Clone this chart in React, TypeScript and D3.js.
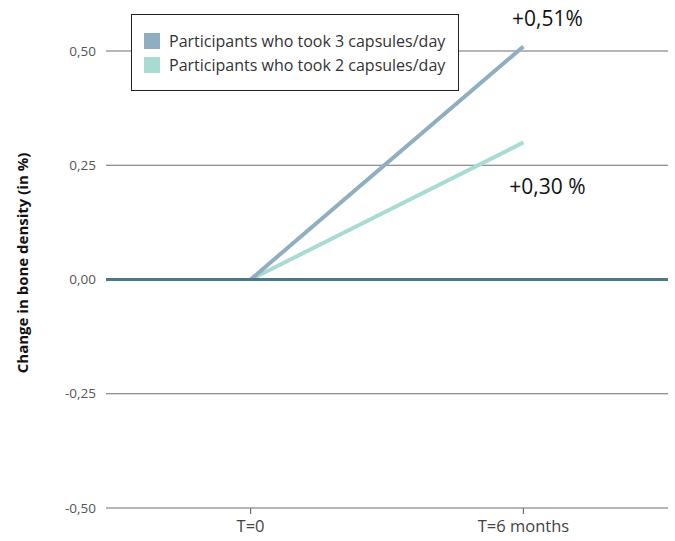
import React from "react";
import * as d3 from "d3";

const categories = ["T=0", "T=6 months"];
const seriesNames = ["Participants who took 3 capsules/day", "Participants who took 2 capsules/day"];
const series3 = [0, 0.51];
const series2 = [0, 0.3];
const yTicks = [-0.5, -0.25, 0, 0.25, 0.5];
const annotations = ["+0,51%", "+0,30 %"];
const colors = ["#8fafc0", "#a8dcd3"];

const W = 675;
const H = 541;
const left = 106;
const right = 668;
const top = 51;
const bottom = 508;

export default function App() {
  const x = d3.scalePoint<string>().domain(categories).range([left, right]).padding(0.53);
  const y = d3.scaleLinear().domain([-0.5, 0.5]).range([bottom, top]);
  const fmt = (v: number) => d3.format(".2f")(v).replace(".", ",").replace("−", "-");
  const line = d3
    .line<number>()
    .x((_, i) => x(categories[i]) as number)
    .y((d) => y(d));
  const font = "'Open Sans', sans-serif";
  const lastX = x(categories[1]) as number;
  return (
    <svg width={W} height={H} style={{ position: "absolute", left: 0, top: 0, background: "#fff" }}>
      {yTicks.map((t) =>
        t === 0 ? null : (
          <line key={t} x1={left} x2={right} y1={y(t)} y2={y(t)} stroke="#6e6e6e" strokeWidth={1.2} />
        )
      )}
      {yTicks.map((t) => (
        <text key={"l" + t} x={96} y={y(t)} dy="0.35em" textAnchor="end" fontFamily={font} fontSize={13.5} fill="#555">
          {fmt(t)}
        </text>
      ))}
      {categories.map((c) => (
        <g key={c}>
          <line x1={x(c)} x2={x(c)} y1={bottom} y2={bottom + 6} stroke="#6e6e6e" strokeWidth={1.2} />
          <text x={x(c)} y={bottom + 24} textAnchor="middle" fontFamily={font} fontSize={16.5} fill="#444">
            {c}
          </text>
        </g>
      ))}
      <text
        transform={`translate(28,263) rotate(-90)`}
        textAnchor="middle"
        fontFamily={font}
        fontWeight="bold"
        fontSize={15}
        fill="#111"
      >
        Change in bone density (in %)
      </text>
      <path d={line(series2) || ""} fill="none" stroke={colors[1]} strokeWidth={4} />
      <path d={line(series3) || ""} fill="none" stroke={colors[0]} strokeWidth={4} />
      <line x1={left} x2={right} y1={y(0)} y2={y(0)} stroke="#4b7889" strokeWidth={3} />
      <text x={lastX + 24} y={26} textAnchor="middle" fontFamily={font} fontSize={21} fill="#111">
        {annotations[0]}
      </text>
      <text x={lastX + 24} y={194} textAnchor="middle" fontFamily={font} fontSize={21} fill="#111">
        {annotations[1]}
      </text>
      <rect x={131.5} y={14.5} width={327} height={76} fill="#fff" stroke="#222" strokeWidth={1} />
      {seriesNames.map((s, i) => (
        <g key={s}>
          <rect x={144} y={33 + i * 24} width={16} height={16} fill={colors[i]} />
          <text x={169} y={41 + i * 24} dy="0.35em" fontFamily={font} fontSize={16} fill="#333">
            {s}
          </text>
        </g>
      ))}
    </svg>
  );
}
